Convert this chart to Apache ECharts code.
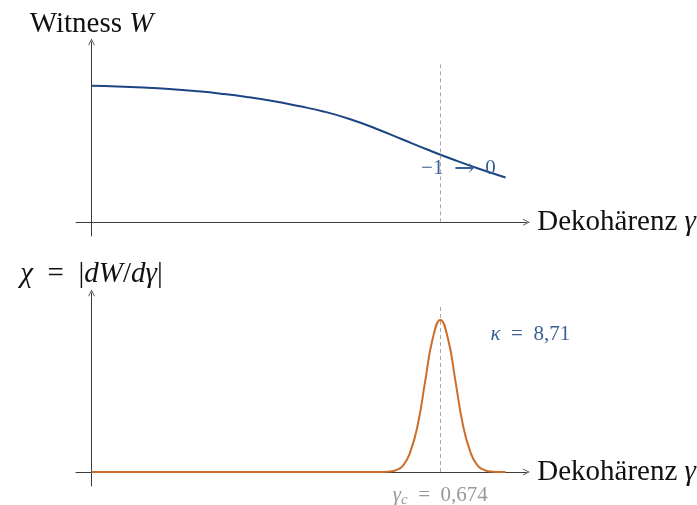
<!DOCTYPE html>
<html><head><meta charset="utf-8">
<script src="https://cdn.jsdelivr.net/npm/echarts@6/dist/echarts.min.js"></script>
<style>html,body{margin:0;padding:0;background:#fff}#c{width:697px;height:505px}</style>
</head><body><div id="c"></div>
<script>
// ---- data ----
const gammaW  = [0, 0.05, 0.10, 0.15, 0.20, 0.25, 0.30, 0.35, 0.40, 0.45, 0.50, 0.55, 0.60, 0.65, 0.70, 0.75, 0.80];
const witness = [1.0, 0.995, 0.987, 0.976, 0.961, 0.942, 0.918, 0.888, 0.851, 0.810, 0.755, 0.685, 0.608, 0.531, 0.458, 0.390, 0.328];
const gammaChi  = [0, 0.30, 0.55, 0.573, 0.587, 0.602, 0.616, 0.631, 0.645, 0.6595, 0.674, 0.6885, 0.703, 0.717, 0.732, 0.746, 0.761, 0.775, 0.80];
const chiValues = [0, 0, 0, 0.02, 0.09, 0.37, 1.15, 2.79, 5.25, 7.67, 8.71, 7.67, 5.25, 2.79, 1.15, 0.37, 0.09, 0.02, 0];
const gammaC = 0.674;
const kappa = 8.71;
const witnessFrom = '−1';
const witnessTo = '0';
const kappaText = '8,71';
const gammaCText = '0,674';

// ---- styling ----
const SERIF = '"Liberation Serif", "DejaVu Serif", serif';
const AX = '#3a3a3a';
const BLUE = '#1c4584';
const LBLUE = '#3a5f96';
const ORANGE = '#cc6e2a';
const ARROW = 'path://M0,10 L5,0 L10,10 L9.2,10.8 L5,2.6 L0.8,10.8 Z';
const NAME_SIZE = 29;

function axisLine() {
  return {show: true, onZero: true, symbol: ['none', ARROW], symbolSize: [9, 7],
          lineStyle: {color: AX, width: 1}};
}
const nameStyle = (size) => ({
  fontFamily: SERIF, fontSize: size, color: '#111',
  rich: {i: {fontFamily: SERIF, fontSize: size, fontStyle: 'italic', color: '#111'}}
});
function xAx(gi) {
  return {type: 'value', gridIndex: gi, min: -0.03, max: 0.84,
    axisLine: axisLine(), axisTick: {show: false}, axisLabel: {show: false}, splitLine: {show: false},
    name: 'Dekohärenz {i|γ}', nameLocation: 'end', nameGap: 11, nameTextStyle: nameStyle(NAME_SIZE)};
}
const dash = {symbol: 'none', silent: true, label: {show: false},
  lineStyle: {type: [4, 3], color: '#a8a8a8', width: 1}};

const chart = echarts.init(document.getElementById('c'), null, {renderer: 'canvas'});
chart.setOption({
  animation: false,
  backgroundColor: '#fff',
  grid: [
    {left: 76, top: 42, width: 451, height: 194},
    {left: 76, top: 293, width: 451, height: 193}
  ],
  xAxis: [xAx(0), xAx(1)],
  yAxis: [
    {type: 'value', gridIndex: 0, min: -0.1, max: 1.32,
     axisLine: axisLine(), axisTick: {show: false}, axisLabel: {show: false}, splitLine: {show: false},
     name: 'Witness {i|W}', nameLocation: 'end', nameGap: 3, nameTextStyle: nameStyle(NAME_SIZE)},
    {type: 'value', gridIndex: 1, min: -0.8, max: 10.25,
     axisLine: axisLine(), axisTick: {show: false}, axisLabel: {show: false}, splitLine: {show: false},
     name: '{i|χ}\u2002=\u2002|{i|dW}/{i|dγ}|', nameLocation: 'end', nameGap: 4, nameTextStyle: nameStyle(NAME_SIZE)}
  ],
  series: [
    {type: 'line', xAxisIndex: 0, yAxisIndex: 0, smooth: true, symbol: 'none',
     lineStyle: {color: BLUE, width: 2},
     data: gammaW.map((g, i) => [g, witness[i]]),
     markLine: Object.assign({}, dash, {data: [[{coord: [gammaC, 0]}, {coord: [gammaC, 1.17]}]]}),
     markPoint: {silent: true, data: [{coord: [0.709, 0.397], symbol: 'circle', symbolSize: 1,
        itemStyle: {color: 'rgba(0,0,0,0)'},
        label: {show: true, position: 'inside', formatter: witnessFrom + '\u2002{a|→}\u2002' + witnessTo,
                fontFamily: SERIF, fontSize: 21, color: LBLUE,
                rich: {a: {fontFamily: '"DejaVu Serif", serif', fontSize: 25, color: LBLUE, padding: [3, 0, 0, 0]}}}}]}
    },
    {type: 'line', xAxisIndex: 1, yAxisIndex: 1, smooth: true, symbol: 'none',
     lineStyle: {color: ORANGE, width: 2},
     data: gammaChi.map((g, i) => [g, chiValues[i]]),
     markLine: Object.assign({}, dash, {data: [[{coord: [gammaC, 0]}, {coord: [gammaC, 9.56]}]]}),
     markPoint: {silent: true, data: [
       {coord: [gammaC, kappa], symbol: 'circle', symbolSize: 1, itemStyle: {color: 'rgba(0,0,0,0)'},
        label: {show: true, position: 'inside', offset: [90, 15], formatter: '{i|κ}\u2002=\u2002' + kappaText,
                fontFamily: SERIF, fontSize: 21, color: LBLUE,
                rich: {i: {fontFamily: SERIF, fontSize: 21, fontStyle: 'italic', color: LBLUE}}}},
       {coord: [gammaC, 0], symbol: 'circle', symbolSize: 1, itemStyle: {color: 'rgba(0,0,0,0)'},
        label: {show: true, position: 'inside', offset: [0, 23], formatter: '{i|γ}{s|c}{n|\u2002=\u2002' + gammaCText + '}',
                color: '#999',
                rich: {i: {fontFamily: SERIF, fontSize: 21, fontStyle: 'italic', color: '#999', lineHeight: 26, verticalAlign: 'middle'},
                       s: {fontFamily: SERIF, fontSize: 15, fontStyle: 'italic', color: '#999', verticalAlign: 'bottom'},
                       n: {fontFamily: SERIF, fontSize: 21, color: '#999', lineHeight: 26, verticalAlign: 'middle'}}}}
     ]}
    }
  ]
});
</script></body></html>
